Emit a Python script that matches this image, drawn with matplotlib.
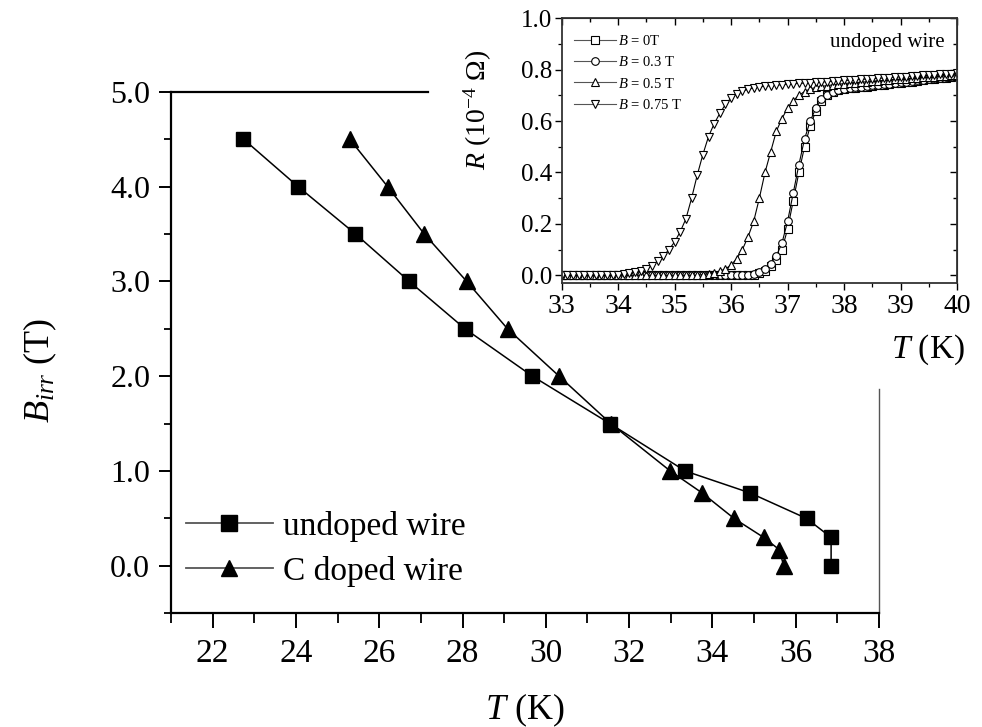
import numpy as np
import matplotlib
matplotlib.use("Agg")
import matplotlib.pyplot as plt
from matplotlib.lines import Line2D
from matplotlib.ticker import MultipleLocator, FormatStrFormatter

plt.rcParams['font.family'] = ['Liberation Serif', 'DejaVu Serif']
plt.rcParams['mathtext.fontset'] = 'custom'
plt.rcParams['mathtext.rm'] = 'Liberation Serif'
plt.rcParams['mathtext.it'] = 'Liberation Serif:italic'
plt.rcParams['mathtext.bf'] = 'Liberation Serif:bold'

# ---------------- main data ----------------
T_undoped = [22.74, 24.05, 25.43, 26.72, 28.06, 29.68, 31.54, 33.35, 34.90, 36.26, 36.85, 36.85]
B_undoped = [4.5, 4.0, 3.5, 3.0, 2.5, 2.0, 1.5, 1.0, 0.77, 0.5, 0.3, 0.0]
T_doped = [25.29, 26.20, 27.08, 28.10, 29.08, 30.32, 31.56, 32.99, 33.75, 34.52, 35.23, 35.61, 35.71]
B_doped = [4.5, 4.0, 3.5, 3.0, 2.5, 2.0, 1.5, 1.0, 0.77, 0.5, 0.3, 0.17, 0.0]
main_labels = ["undoped wire", "C doped wire"]
main_xticks = [22, 24, 26, 28, 30, 32, 34, 36, 38]
main_yticks = [0.0, 1.0, 2.0, 3.0, 4.0, 5.0]

# ---------------- inset data ----------------
T_inset = np.round(np.arange(33.0, 40.0001, 0.1), 2)
R_0T = [0.0] * 34 + [
    .003, .008, .018, .035, .06, .10, .18, .29, .40, .50,
    .58, .64, .68, .70, .712, .72, .724, .727, .729, .732,
    .734, .737, .739, .742, .744, .747, .749, .752, .754, .757,
    .759, .762, .764, .767, .769, .772, .774]
R_03T = [0.0] * 34 + [
    .005, .011, .024, .045, .075, .125, .21, .32, .43, .53,
    .60, .65, .685, .703, .714, .721, .726, .729, .731, .734,
    .736, .739, .741, .744, .746, .749, .751, .754, .756, .759,
    .761, .764, .766, .769, .771, .774, .776]
R_05T = [0.0] * 25 + [
    .003, .006, .01, .016, .025, .04, .065, .10, .15, .21,
    .30, .40, .48, .56, .61, .65, .68, .70, .715, .725,
    .731, .735, .738, .741, .743, .746, .748, .750, .751, .753,
    .755, .757, .758, .760, .762, .763, .765, .767, .768, .770,
    .772, .773, .775, .777, .778, .780]
R_075T = [0.0] * 10 + [
    .003, .005, .008, .012, .018, .026, .038, .055, .075, .10,
    .13, .17, .22, .30, .39, .47, .54, .59, .63, .665,
    .69, .705, .716, .724, .729, .733, .736, .738, .740, .742,
    .744, .745, .747, .748, .750, .751, .752, .754, .755, .757,
    .758, .759, .761, .762, .764, .765, .766, .768, .769, .771,
    .772, .773, .775, .776, .778, .779, .780, .782, .783, .785,
    .786]
inset_series = [R_0T, R_03T, R_05T, R_075T]
inset_labels = [r'$B$ = 0T', r'$B$ = 0.3 T', r'$B$ = 0.5 T', r'$B$ = 0.75 T']
inset_markers = ['s', 'o', '^', 'v']

W, H = 982, 727
fig = plt.figure(figsize=(W / 100, H / 100), dpi=100)

def fx(px):
    return px / W

def fy(py):
    return 1 - py / H

# ---------------- main axes ----------------
ax = fig.add_axes([fx(171), fy(613.3), fx(879) - fx(171), fy(91.7) - fy(613.3)])
ax.plot(T_undoped, B_undoped, color='black', lw=1.1, marker='s', ms=9.5,
        mfc='black', mec='black')
ax.plot(T_doped, B_doped, color='black', lw=1.1, marker='^', ms=11,
        mfc='black', mec='black')
ax.set_xlim(21, 38)
ax.set_ylim(-0.5, 5.0)
ax.set_xticks(main_xticks)
ax.set_yticks(main_yticks)
ax.xaxis.set_minor_locator(MultipleLocator(1))
ax.yaxis.set_minor_locator(MultipleLocator(0.5))
ax.yaxis.set_major_formatter(FormatStrFormatter('%.1f'))
ax.tick_params(which='major', direction='out', length=9, width=1.4, labelsize=23, pad=6)
ax.tick_params(axis='x', which='major', length=11, pad=7, labelsize=24)
ax.tick_params(which='minor', direction='out', length=5, width=1.3)
ax.tick_params(axis='x', which='minor', length=7)
for s in ['left', 'bottom', 'top']:
    ax.spines[s].set_linewidth(1.6)
ax.spines['right'].set_linewidth(1.0)
ax.spines['right'].set_color('#555555')
# parts of top/right frame hidden behind the inset panel
ax.spines['top'].set_bounds(21, 21 + (428 - 171) / 41.65)
ax.spines['right'].set_bounds(-0.5, (566.7 - 390) / 95.0)

handles = [Line2D([], [], color='#555555', lw=1.3, marker='s', ms=11, mfc='black', mec='black'),
           Line2D([], [], color='#555555', lw=1.3, marker='^', ms=12, mfc='black', mec='black')]
fig.legend(handles, main_labels, loc='upper left',
           bbox_to_anchor=(fx(186), fy(511)), frameon=False, fontsize=24,
           handlelength=2.6, handletextpad=0.3, labelspacing=0.42,
           borderpad=0, borderaxespad=0)

fig.text(fx(525), fy(710), r'$T$ (K)', fontsize=26, ha='center', va='center')
fig.text(fx(40), fy(370), r'$B_{irr}$ (T)', fontsize=26, ha='center', va='center',
         rotation=90)

# ---------------- inset axes ----------------
axi = fig.add_axes([fx(561.7), fy(283), fx(957) - fx(561.7), fy(18.3) - fy(283)])
for R, lab, mk in zip(inset_series, inset_labels, inset_markers):
    axi.plot(T_inset, R, color='black', lw=0.8, marker=mk, ms=5.5,
             mfc='white', mec='black', mew=0.8, label=lab)
axi.set_xlim(33, 40)
axi.set_ylim(-0.03, 1.0)
axi.xaxis.set_major_locator(MultipleLocator(1))
axi.xaxis.set_minor_locator(MultipleLocator(0.5))
axi.yaxis.set_major_locator(MultipleLocator(0.2))
axi.yaxis.set_minor_locator(MultipleLocator(0.1))
axi.yaxis.set_major_formatter(FormatStrFormatter('%.1f'))
axi.tick_params(which='major', direction='out', length=5, width=1.0, labelsize=18, pad=2)
axi.tick_params(axis='x', which='major', labelsize=20, pad=3)
axi.tick_params(which='minor', direction='out', length=3, width=0.9)
for s in axi.spines.values():
    s.set_linewidth(1.3)
    s.set_color('#333333')

sx = axi.secondary_xaxis('top')
sx.xaxis.set_major_locator(MultipleLocator(1))
sx.xaxis.set_minor_locator(MultipleLocator(0.5))
sx.tick_params(which='both', direction='in', labeltop=False, width=1.0)
sx.tick_params(which='major', length=5)
sx.tick_params(which='minor', length=3)
sy = axi.secondary_yaxis('right')
sy.yaxis.set_major_locator(MultipleLocator(0.2))
sy.yaxis.set_minor_locator(MultipleLocator(0.1))
sy.tick_params(which='both', direction='in', labelright=False, width=1.0)
sy.tick_params(which='major', length=5)
sy.tick_params(which='minor', length=3)

leg = axi.legend(loc='upper left', bbox_to_anchor=(fx(574), fy(34)),
                 bbox_transform=fig.transFigure, frameon=False, fontsize=10.5,
                 handlelength=2.9, handletextpad=0.15, labelspacing=0.5,
                 borderpad=0, borderaxespad=0)
for h in leg.legend_handles:
    h.set_color('#555555')
    h.set_markeredgecolor('black')
    h.set_markerfacecolor('white')

fig.text(fx(945), fy(43), 'undoped wire', fontsize=15, ha='right', va='center')
fig.text(fx(478), fy(110), r'$R$ (10$^{-4}$ Ω)', fontsize=20, ha='center',
         va='center', rotation=90)
fig.text(fx(965), fy(350), r'$T$ (K)', fontsize=24, ha='right', va='center')

fig.savefig('out.png', dpi=100)
